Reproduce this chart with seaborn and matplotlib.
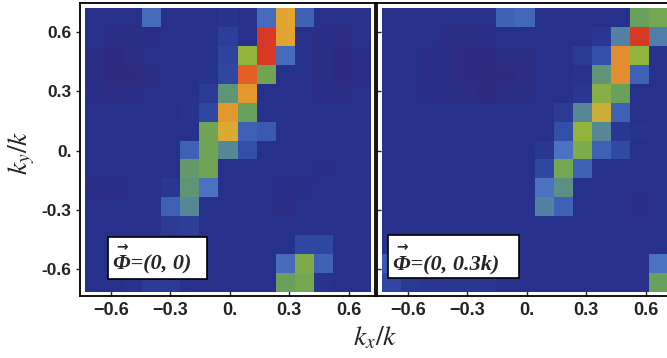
import numpy as np
import pandas as pd
import matplotlib
matplotlib.use("Agg")
import matplotlib.pyplot as plt
from matplotlib.colors import LinearSegmentedColormap
from matplotlib.patches import Rectangle
import seaborn as sns

# Momentum-space bin extents (in units of k) and axis ticks
kx_range = (-0.732, 0.713)
ky_range = (-0.716, 0.723)
tick_values = [-0.6, -0.3, 0.0, 0.3, 0.6]
x_tick_labels = ["\u22120.6", "\u22120.3", "0.", "0.3", "0.6"]
y_tick_labels = ["-0.6", "-0.3", "0.", "0.3", "0.6"]
panel_labels = ["\u03a6=(0, 0)", "\u03a6=(0, 0.3k)"]

# Normalised counts, rows from top (high k_y) to bottom, columns from low to high k_x
counts_phi_0 = [
    [.08, .08, .08, .33, .08, .08, .08, .10, .08, .33, .76, .30, .08, .08, .08],
    [.08, .06, .05, .06, .08, .08, .08, .16, .08, .97, .76, .08, .06, .05, .08],
    [.06, .04, .05, .08, .08, .08, .08, .18, .65, .97, .33, .08, .05, .04, .06],
    [.05, .03, .03, .05, .08, .08, .10, .20, .88, .57, .08, .08, .06, .04, .06],
    [.07, .05, .06, .08, .08, .08, .14, .50, .78, .08, .08, .08, .07, .06, .08],
    [.08, .08, .08, .08, .08, .10, .20, .78, .55, .08, .08, .08, .08, .08, .08],
    [.08, .08, .08, .08, .08, .08, .57, .74, .30, .28, .08, .08, .08, .08, .08],
    [.08, .08, .08, .08, .08, .30, .57, .45, .25, .08, .08, .08, .08, .08, .08],
    [.08, .08, .08, .08, .08, .52, .57, .08, .08, .08, .08, .08, .07, .08, .08],
    [.06, .06, .08, .08, .12, .50, .35, .08, .08, .08, .07, .07, .08, .08, .08],
    [.08, .08, .08, .08, .30, .45, .08, .08, .08, .08, .05, .08, .08, .08, .08],
    [.08, .08, .08, .08, .14, .16, .08, .08, .08, .08, .08, .08, .08, .08, .08],
    [.08, .08, .08, .08, .08, .08, .08, .08, .08, .08, .08, .20, .20, .08, .08],
    [.08, .08, .08, .08, .08, .08, .08, .08, .08, .08, .33, .60, .30, .08, .08],
    [.08, .08, .10, .14, .14, .08, .08, .08, .08, .08, .55, .58, .10, .08, .08],
]

counts_phi_03 = [
    [.08, .08, .08, .08, .08, .08, .30, .32, .08, .08, .08, .08, .08, .55, .58],
    [.08, .08, .08, .06, .05, .06, .08, .08, .08, .08, .08, .12, .42, .97, .40],
    [.08, .08, .06, .05, .04, .04, .05, .05, .08, .08, .14, .25, .80, .65, .10],
    [.08, .08, .06, .05, .04, .03, .03, .05, .08, .08, .10, .50, .80, .30, .08],
    [.08, .08, .07, .06, .05, .04, .05, .06, .08, .08, .12, .62, .55, .08, .08],
    [.08, .08, .08, .08, .08, .08, .08, .08, .08, .14, .45, .72, .30, .08, .08],
    [.08, .08, .08, .08, .08, .08, .08, .08, .08, .25, .65, .45, .12, .10, .08],
    [.08, .08, .08, .08, .08, .08, .08, .08, .12, .35, .60, .30, .22, .08, .08],
    [.08, .08, .08, .08, .08, .08, .08, .08, .20, .58, .30, .08, .08, .08, .08],
    [.08, .08, .08, .08, .08, .08, .08, .08, .35, .48, .08, .08, .08, .08, .08],
    [.08, .08, .08, .08, .08, .08, .08, .08, .42, .30, .08, .08, .08, .06, .08],
    [.08, .08, .08, .08, .08, .08, .08, .08, .08, .08, .08, .08, .08, .08, .08],
    [.08, .08, .08, .08, .08, .08, .08, .08, .08, .08, .08, .08, .08, .08, .08],
    [.28, .08, .08, .08, .08, .08, .08, .08, .08, .08, .08, .08, .08, .08, .35],
    [.20, .13, .12, .12, .12, .12, .08, .08, .08, .08, .08, .08, .08, .08, .55],
]

sns.set_style("white")
plt.rcParams["font.family"] = ["Liberation Sans", "DejaVu Sans"]

cmap = LinearSegmentedColormap.from_list(
    "rainbow_soft",
    [(0.00, "#33297a"), (0.08, "#27308b"), (0.25, "#3250aa"), (0.35, "#4b72c0"),
     (0.45, "#568796"), (0.55, "#69a05a"), (0.65, "#91b43c"), (0.75, "#e1aa32"),
     (0.87, "#e46428"), (1.00, "#d42d23")],
)

n_bins = len(counts_phi_0)
cw = (kx_range[1] - kx_range[0]) / n_bins
ch = (ky_range[1] - ky_range[0]) / n_bins
kx_centers = np.round(kx_range[0] + cw * (np.arange(n_bins) + 0.5), 3)
ky_centers = np.round(ky_range[1] - ch * (np.arange(n_bins) + 0.5), 3)

fig = plt.figure(figsize=(6.67, 3.58), dpi=100)
W, H = 667, 358
frames = [(80, 3, 295, 293), (377, 3, 295, 293)]
boxes = [(108, 237, 207, 279), (388, 235, 519, 278)]
text_x = [113, 393]

for i, (counts, label) in enumerate(zip([counts_phi_0, counts_phi_03], panel_labels)):
    x0, y0, w, h = frames[i]
    ax = fig.add_axes([x0 / W, (H - y0 - h) / H, w / W, h / H])
    df = pd.DataFrame(counts, index=ky_centers, columns=kx_centers)
    sns.heatmap(df, ax=ax, cmap=cmap, vmin=0, vmax=1, cbar=False,
                xticklabels=False, yticklabels=False, linewidths=0)
    ax.set_xlim(-0.262, n_bins + 0.21)
    ax.set_ylim(n_bins + 0.211, -0.264)
    for s in ax.spines.values():
        s.set_visible(True)
        s.set_color("black")
        s.set_linewidth(1.3)
    xt = [(v - kx_range[0]) / cw for v in tick_values]
    yt = [(ky_range[1] - v) / ch for v in tick_values]
    ax.set_xticks(xt)
    ax.set_xticklabels(x_tick_labels, fontsize=13, fontweight="bold", color="#222222")
    ax.tick_params(axis="x", direction="in", length=4, width=1, pad=4.5, bottom=True)
    ax.set_yticks(yt)
    if i == 0:
        ax.set_yticklabels(y_tick_labels, fontsize=12.5, fontweight="bold", color="#222222")
        ax.tick_params(axis="y", direction="out", length=3, width=1, pad=3, left=True)
    else:
        ax.set_yticklabels([])
        ax.tick_params(axis="y", direction="in", length=3, width=1, left=True)
    ax.set_xlabel("")
    ax.set_ylabel("")

    # label box with the phase vector
    bx0, by0, bx1, by1 = boxes[i]
    rect = Rectangle(((bx0 - x0) / w, (y0 + h - by1) / h), (bx1 - bx0) / w, (by1 - by0) / h,
                     transform=ax.transAxes, facecolor="white", edgecolor="black",
                     linewidth=1.2, zorder=4, clip_on=False)
    ax.add_patch(rect)
    tx = (text_x[i] - x0) / w
    ty = (y0 + h - 269) / h
    ax.text(tx, ty, label, transform=ax.transAxes, ha="left", va="baseline",
            fontsize=16, fontweight="bold", fontstyle="italic",
            family=["Liberation Serif", "DejaVu Serif"], zorder=5)
    ax.text((text_x[i] + 9 - x0) / w, (y0 + h - 247) / h, "\u2192",
            transform=ax.transAxes, ha="center", va="center", fontsize=10,
            fontweight="bold", family=["DejaVu Sans"], zorder=5)

fig.text(22 / W, (H - 153) / H, r"$k_y/k$", rotation=90, ha="center", va="center",
         fontsize=20, math_fontfamily="stix", color="#222222")
fig.text(375 / W, (H - 338) / H, r"$k_x/k$", ha="center", va="center",
         fontsize=20, math_fontfamily="stix", color="#222222")

fig.savefig("out.png", dpi=100)
